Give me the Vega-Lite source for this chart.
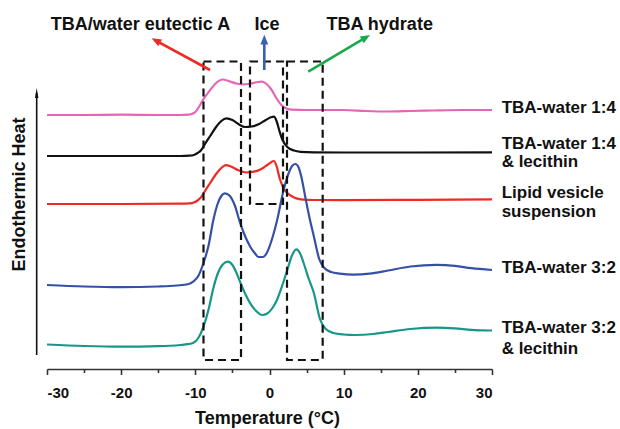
{
  "$schema": "https://vega.github.io/schema/vega-lite/v6.json",
  "width": 445,
  "height": 369,
  "autosize": {"type": "none"},
  "padding": {"left": 47, "top": 0, "right": 128, "bottom": 60},
  "background": "white",
  "config": {"view": {"stroke": null}, "font": "Liberation Sans"},
  "datasets": {
    "curves": [
      {"s":"TBA-water 1:4","T":-30,"v":254},{"s":"TBA-water 1:4","T":-25,"v":254},{"s":"TBA-water 1:4","T":-20,"v":254.3},{"s":"TBA-water 1:4","T":-15,"v":254},{"s":"TBA-water 1:4","T":-12,"v":254},{"s":"TBA-water 1:4","T":-11,"v":254.3},{"s":"TBA-water 1:4","T":-10.5,"v":255},{"s":"TBA-water 1:4","T":-10,"v":257},{"s":"TBA-water 1:4","T":-9.4,"v":263.5},{"s":"TBA-water 1:4","T":-8.8,"v":271},{"s":"TBA-water 1:4","T":-8,"v":279},{"s":"TBA-water 1:4","T":-7.2,"v":286},{"s":"TBA-water 1:4","T":-6.3,"v":289.5},{"s":"TBA-water 1:4","T":-5.5,"v":288},{"s":"TBA-water 1:4","T":-4.5,"v":285.5},{"s":"TBA-water 1:4","T":-3.5,"v":284.5},{"s":"TBA-water 1:4","T":-2.5,"v":285.5},{"s":"TBA-water 1:4","T":-1.6,"v":287},{"s":"TBA-water 1:4","T":-1,"v":287.3},{"s":"TBA-water 1:4","T":-0.4,"v":285},{"s":"TBA-water 1:4","T":0.3,"v":279},{"s":"TBA-water 1:4","T":1,"v":270},{"s":"TBA-water 1:4","T":1.6,"v":264},{"s":"TBA-water 1:4","T":2.3,"v":260.5},{"s":"TBA-water 1:4","T":3,"v":259.3},{"s":"TBA-water 1:4","T":5,"v":259},{"s":"TBA-water 1:4","T":10,"v":259},{"s":"TBA-water 1:4","T":13,"v":258},{"s":"TBA-water 1:4","T":16,"v":257.5},{"s":"TBA-water 1:4","T":19,"v":258},{"s":"TBA-water 1:4","T":22,"v":258.5},{"s":"TBA-water 1:4","T":26,"v":259},{"s":"TBA-water 1:4","T":30,"v":259},
      {"s":"TBA-water 1:4 & lecithin","T":-30,"v":213},{"s":"TBA-water 1:4 & lecithin","T":-20,"v":213},{"s":"TBA-water 1:4 & lecithin","T":-12,"v":213},{"s":"TBA-water 1:4 & lecithin","T":-10.8,"v":213.3},{"s":"TBA-water 1:4 & lecithin","T":-10.2,"v":214},{"s":"TBA-water 1:4 & lecithin","T":-9.7,"v":216},{"s":"TBA-water 1:4 & lecithin","T":-9.2,"v":219},{"s":"TBA-water 1:4 & lecithin","T":-8.7,"v":225},{"s":"TBA-water 1:4 & lecithin","T":-8,"v":233},{"s":"TBA-water 1:4 & lecithin","T":-7.2,"v":242},{"s":"TBA-water 1:4 & lecithin","T":-6.5,"v":248},{"s":"TBA-water 1:4 & lecithin","T":-5.8,"v":250.7},{"s":"TBA-water 1:4 & lecithin","T":-5,"v":249},{"s":"TBA-water 1:4 & lecithin","T":-4.1,"v":244.5},{"s":"TBA-water 1:4 & lecithin","T":-3.3,"v":242},{"s":"TBA-water 1:4 & lecithin","T":-2.4,"v":242.5},{"s":"TBA-water 1:4 & lecithin","T":-1.4,"v":245},{"s":"TBA-water 1:4 & lecithin","T":-0.5,"v":249},{"s":"TBA-water 1:4 & lecithin","T":0.2,"v":251.8},{"s":"TBA-water 1:4 & lecithin","T":0.6,"v":252.3},{"s":"TBA-water 1:4 & lecithin","T":0.95,"v":248},{"s":"TBA-water 1:4 & lecithin","T":1.3,"v":239},{"s":"TBA-water 1:4 & lecithin","T":1.7,"v":230},{"s":"TBA-water 1:4 & lecithin","T":2.4,"v":222},{"s":"TBA-water 1:4 & lecithin","T":3.3,"v":218.5},{"s":"TBA-water 1:4 & lecithin","T":4.2,"v":217.2},{"s":"TBA-water 1:4 & lecithin","T":6,"v":216.7},{"s":"TBA-water 1:4 & lecithin","T":10,"v":216.5},{"s":"TBA-water 1:4 & lecithin","T":20,"v":216.5},{"s":"TBA-water 1:4 & lecithin","T":30,"v":216.7},
      {"s":"Lipid vesicle suspension","T":-30,"v":165},{"s":"Lipid vesicle suspension","T":-20,"v":165},{"s":"Lipid vesicle suspension","T":-12,"v":165.3},{"s":"Lipid vesicle suspension","T":-10.8,"v":165.6},{"s":"Lipid vesicle suspension","T":-10.2,"v":166.5},{"s":"Lipid vesicle suspension","T":-9.7,"v":168.5},{"s":"Lipid vesicle suspension","T":-9.2,"v":172},{"s":"Lipid vesicle suspension","T":-8.7,"v":178},{"s":"Lipid vesicle suspension","T":-8,"v":186},{"s":"Lipid vesicle suspension","T":-7.2,"v":195},{"s":"Lipid vesicle suspension","T":-6.5,"v":201},{"s":"Lipid vesicle suspension","T":-5.9,"v":203.8},{"s":"Lipid vesicle suspension","T":-5.2,"v":202.5},{"s":"Lipid vesicle suspension","T":-4.2,"v":198.8},{"s":"Lipid vesicle suspension","T":-3.1,"v":196.5},{"s":"Lipid vesicle suspension","T":-2.1,"v":197.3},{"s":"Lipid vesicle suspension","T":-1.1,"v":200},{"s":"Lipid vesicle suspension","T":-0.2,"v":204.5},{"s":"Lipid vesicle suspension","T":0.6,"v":208},{"s":"Lipid vesicle suspension","T":0.95,"v":203},{"s":"Lipid vesicle suspension","T":1.4,"v":190},{"s":"Lipid vesicle suspension","T":1.9,"v":181},{"s":"Lipid vesicle suspension","T":2.4,"v":176},{"s":"Lipid vesicle suspension","T":3.3,"v":171.5},{"s":"Lipid vesicle suspension","T":4.2,"v":169.7},{"s":"Lipid vesicle suspension","T":6,"v":169},{"s":"Lipid vesicle suspension","T":10,"v":168.8},{"s":"Lipid vesicle suspension","T":20,"v":169.2},{"s":"Lipid vesicle suspension","T":30,"v":169.7},
      {"s":"TBA-water 3:2","T":-30,"v":84},{"s":"TBA-water 3:2","T":-25,"v":82.5},{"s":"TBA-water 3:2","T":-20,"v":81.8},{"s":"TBA-water 3:2","T":-15,"v":82.5},{"s":"TBA-water 3:2","T":-12.5,"v":83.5},{"s":"TBA-water 3:2","T":-11,"v":84.8},{"s":"TBA-water 3:2","T":-10.3,"v":87.3},{"s":"TBA-water 3:2","T":-9.6,"v":93},{"s":"TBA-water 3:2","T":-8.9,"v":106},{"s":"TBA-water 3:2","T":-8.2,"v":124},{"s":"TBA-water 3:2","T":-7.6,"v":148},{"s":"TBA-water 3:2","T":-7,"v":165},{"s":"TBA-water 3:2","T":-6.5,"v":173},{"s":"TBA-water 3:2","T":-6,"v":175.7},{"s":"TBA-water 3:2","T":-5.4,"v":173.5},{"s":"TBA-water 3:2","T":-4.7,"v":164},{"s":"TBA-water 3:2","T":-4,"v":147},{"s":"TBA-water 3:2","T":-3.3,"v":133},{"s":"TBA-water 3:2","T":-2.6,"v":122.3},{"s":"TBA-water 3:2","T":-2,"v":116},{"s":"TBA-water 3:2","T":-1.5,"v":112},{"s":"TBA-water 3:2","T":-0.9,"v":112},{"s":"TBA-water 3:2","T":-0.3,"v":117},{"s":"TBA-water 3:2","T":0.3,"v":129},{"s":"TBA-water 3:2","T":1,"v":148},{"s":"TBA-water 3:2","T":1.9,"v":179},{"s":"TBA-water 3:2","T":2.7,"v":198},{"s":"TBA-water 3:2","T":3.1,"v":203.5},{"s":"TBA-water 3:2","T":3.5,"v":205},{"s":"TBA-water 3:2","T":3.9,"v":202},{"s":"TBA-water 3:2","T":4.3,"v":192},{"s":"TBA-water 3:2","T":4.8,"v":173},{"s":"TBA-water 3:2","T":5.4,"v":151},{"s":"TBA-water 3:2","T":6,"v":132},{"s":"TBA-water 3:2","T":6.7,"v":110},{"s":"TBA-water 3:2","T":7.4,"v":101},{"s":"TBA-water 3:2","T":8.3,"v":97},{"s":"TBA-water 3:2","T":9.5,"v":95.3},{"s":"TBA-water 3:2","T":11.3,"v":94.3},{"s":"TBA-water 3:2","T":13.5,"v":95.3},{"s":"TBA-water 3:2","T":16,"v":98.5},{"s":"TBA-water 3:2","T":19,"v":102.5},{"s":"TBA-water 3:2","T":22.5,"v":104.2},{"s":"TBA-water 3:2","T":25,"v":103.2},{"s":"TBA-water 3:2","T":27.2,"v":100.8},{"s":"TBA-water 3:2","T":30,"v":99},
      {"s":"TBA-water 3:2 & lecithin","T":-30,"v":24.5},{"s":"TBA-water 3:2 & lecithin","T":-25,"v":23},{"s":"TBA-water 3:2 & lecithin","T":-20,"v":22.3},{"s":"TBA-water 3:2 & lecithin","T":-15,"v":22.8},{"s":"TBA-water 3:2 & lecithin","T":-12,"v":24},{"s":"TBA-water 3:2 & lecithin","T":-11,"v":24.8},{"s":"TBA-water 3:2 & lecithin","T":-10.3,"v":26},{"s":"TBA-water 3:2 & lecithin","T":-9.6,"v":31},{"s":"TBA-water 3:2 & lecithin","T":-8.9,"v":42.3},{"s":"TBA-water 3:2 & lecithin","T":-8.2,"v":60},{"s":"TBA-water 3:2 & lecithin","T":-7.6,"v":80},{"s":"TBA-water 3:2 & lecithin","T":-7,"v":95},{"s":"TBA-water 3:2 & lecithin","T":-6.3,"v":104.5},{"s":"TBA-water 3:2 & lecithin","T":-5.6,"v":107.3},{"s":"TBA-water 3:2 & lecithin","T":-5,"v":104},{"s":"TBA-water 3:2 & lecithin","T":-4.5,"v":97},{"s":"TBA-water 3:2 & lecithin","T":-3.9,"v":86},{"s":"TBA-water 3:2 & lecithin","T":-3.2,"v":74},{"s":"TBA-water 3:2 & lecithin","T":-2.6,"v":65.7},{"s":"TBA-water 3:2 & lecithin","T":-1.8,"v":58},{"s":"TBA-water 3:2 & lecithin","T":-1,"v":54},{"s":"TBA-water 3:2 & lecithin","T":-0.3,"v":55.5},{"s":"TBA-water 3:2 & lecithin","T":0.4,"v":61},{"s":"TBA-water 3:2 & lecithin","T":1,"v":69},{"s":"TBA-water 3:2 & lecithin","T":1.7,"v":83},{"s":"TBA-water 3:2 & lecithin","T":2.4,"v":99},{"s":"TBA-water 3:2 & lecithin","T":3,"v":113},{"s":"TBA-water 3:2 & lecithin","T":3.6,"v":119.7},{"s":"TBA-water 3:2 & lecithin","T":4.1,"v":116},{"s":"TBA-water 3:2 & lecithin","T":4.6,"v":106},{"s":"TBA-water 3:2 & lecithin","T":5.3,"v":90},{"s":"TBA-water 3:2 & lecithin","T":6,"v":75.5},{"s":"TBA-water 3:2 & lecithin","T":6.8,"v":50},{"s":"TBA-water 3:2 & lecithin","T":7.6,"v":40},{"s":"TBA-water 3:2 & lecithin","T":8.6,"v":36},{"s":"TBA-water 3:2 & lecithin","T":10,"v":34.5},{"s":"TBA-water 3:2 & lecithin","T":11.5,"v":34},{"s":"TBA-water 3:2 & lecithin","T":14,"v":35},{"s":"TBA-water 3:2 & lecithin","T":16,"v":37},{"s":"TBA-water 3:2 & lecithin","T":19,"v":40},{"s":"TBA-water 3:2 & lecithin","T":22.6,"v":41.3},{"s":"TBA-water 3:2 & lecithin","T":25,"v":40.6},{"s":"TBA-water 3:2 & lecithin","T":27.2,"v":39.2},{"s":"TBA-water 3:2 & lecithin","T":30,"v":38.5}
    ],
    "boxes": [
      {"name":"eutectic","T1":-8.9,"T2":-3.84,"v1":307.5,"v2":9},
      {"name":"ice","T1":-2.63,"T2":1.82,"v1":307.5,"v2":165},
      {"name":"hydrate","T1":2.36,"T2":7.17,"v1":307.5,"v2":9}
    ],
    "arrows": [
      {"s":"eutectic","T":-8.02,"v":299,"T2":-15.32,"v2":328.4},
      {"s":"ice","T":-0.7,"v":299,"T2":-0.7,"v2":329.3},
      {"s":"hydrate","T":5.23,"v":297.3,"T2":13.0,"v2":331.6}
    ],
    "topLabels": [
      {"text":"TBA/water eutectic A","T":-17.4,"v":344.5},
      {"text":"Ice","T":-0.34,"v":344.5},
      {"text":"TBA hydrate","T":14.86,"v":344.5}
    ],
    "rightLabels": [
      {"text":"TBA-water 1:4","T":31.3,"v":260.7},
      {"text":"TBA-water 1:4","T":31.3,"v":225.5},
      {"text":"& lecithin","T":31.3,"v":207},
      {"text":"Lipid vesicle","T":31.3,"v":176},
      {"text":"suspension","T":31.3,"v":157},
      {"text":"TBA-water 3:2","T":31.3,"v":101},
      {"text":"TBA-water 3:2","T":31.3,"v":41},
      {"text":"& lecithin","T":31.3,"v":20}
    ],
    "yArrow": [{"T":-31.39,"v":14,"v2":276}]
  },
  "encoding": {
    "x": {"field": "T", "type": "quantitative",
      "scale": {"domain": [-30, 30], "nice": false, "zero": false},
      "axis": {
        "values": [-30,-25,-20,-15,-10,-5,0,5,10,15,20,25,30],
        "labelExpr": "datum.value % 10 === 0 ? toString(datum.value) : ''",
        "title": "Temperature (°C)",
        "grid": false,
        "domainColor": "#333333", "domainWidth": 1.6,
        "tickColor": "#333333", "tickWidth": 1.6,
        "tickSize": {"condition": {"test": "datum.value % 10 === 0", "value": 5.5}, "value": 3.5},
        "labelPadding": 11, "labelFontSize": 15, "labelFontWeight": "bold", "labelColor": "#111111",
        "labelFont": "Liberation Sans",
        "titleFont": "Liberation Sans", "titleFontSize": 18, "titleFontWeight": "bold", "titleColor": "#111111",
        "titleX": 220, "titleY": 49, "titleBaseline": "middle", "titleAlign": "center"
      }
    },
    "y": {"field": "v", "type": "quantitative",
      "scale": {"domain": [0, 369], "nice": false, "zero": false},
      "axis": {
        "domain": false, "ticks": false, "labels": false, "grid": false,
        "title": "Endothermic Heat",
        "titleFont": "Liberation Sans", "titleFontSize": 18, "titleFontWeight": "bold", "titleColor": "#111111",
        "titleX": -28, "titleY": 194, "titleAngle": -90, "titleAlign": "center", "titleBaseline": "middle"
      }
    }
  },
  "layer": [
    {
      "data": {"name": "curves"},
      "mark": {"type": "line", "interpolate": "monotone", "strokeWidth": 2.2},
      "encoding": {
        "color": {"field": "s", "type": "nominal", "legend": null,
          "scale": {
            "domain": ["TBA-water 1:4","TBA-water 1:4 & lecithin","Lipid vesicle suspension","TBA-water 3:2","TBA-water 3:2 & lecithin","eutectic","ice","hydrate"],
            "range": ["#e467b6","#111111","#ee2a22","#3550a5","#17968a","#ee2a22","#3a5fb8","#19aa4c"]
          }
        }
      }
    },
    {
      "data": {"name": "boxes"},
      "mark": {"type": "rect", "fillOpacity": 0, "stroke": "#111111", "strokeWidth": 2.2, "strokeDash": [8, 5]},
      "encoding": {
        "x": {"field": "T1", "type": "quantitative"},
        "x2": {"field": "T2"},
        "y": {"field": "v1", "type": "quantitative"},
        "y2": {"field": "v2"}
      }
    },
    {
      "data": {"name": "arrows"},
      "mark": {"type": "rule", "strokeWidth": 2.6},
      "encoding": {
        "x2": {"field": "T2"},
        "y2": {"field": "v2"},
        "color": {"field": "s", "type": "nominal", "legend": null}
      }
    },
    {
      "data": {"values": [{"T": -15.32, "v": 328.4}]},
      "mark": {"type": "point", "shape": "M-0.8,1L0,-1L0.8,1Z", "filled": true, "size": 95, "angle": -61.5, "color": "#ee2a22", "opacity": 1, "strokeWidth": 0}
    },
    {
      "data": {"values": [{"T": -0.7, "v": 329.3}]},
      "mark": {"type": "point", "shape": "M-0.8,1L0,-1L0.8,1Z", "filled": true, "size": 95, "angle": 0, "color": "#3a5fb8", "opacity": 1, "strokeWidth": 0}
    },
    {
      "data": {"values": [{"T": 13.0, "v": 331.6}]},
      "mark": {"type": "point", "shape": "M-0.8,1L0,-1L0.8,1Z", "filled": true, "size": 95, "angle": 59.2, "color": "#19aa4c", "opacity": 1, "strokeWidth": 0}
    },
    {
      "data": {"name": "yArrow"},
      "mark": {"type": "rule", "strokeWidth": 1.6, "color": "#111111"},
      "encoding": {
        "y2": {"field": "v2"}
      }
    },
    {
      "data": {"values": [{"T": -31.39, "v": 276}]},
      "mark": {"type": "point", "shape": "M-0.35,1L0,-1L0.35,1Z", "filled": true, "size": 100, "color": "#111111", "opacity": 1, "strokeWidth": 0}
    },
    {
      "data": {"name": "topLabels"},
      "mark": {"type": "text", "font": "Liberation Sans", "fontSize": 18, "fontWeight": "bold", "align": "center", "baseline": "middle", "color": "#111111"},
      "encoding": {
        "text": {"field": "text"}
      }
    },
    {
      "data": {"name": "rightLabels"},
      "mark": {"type": "text", "font": "Liberation Sans", "fontSize": 17, "fontWeight": "bold", "align": "left", "baseline": "middle", "color": "#111111"},
      "encoding": {
        "text": {"field": "text"}
      }
    }
  ]
}
